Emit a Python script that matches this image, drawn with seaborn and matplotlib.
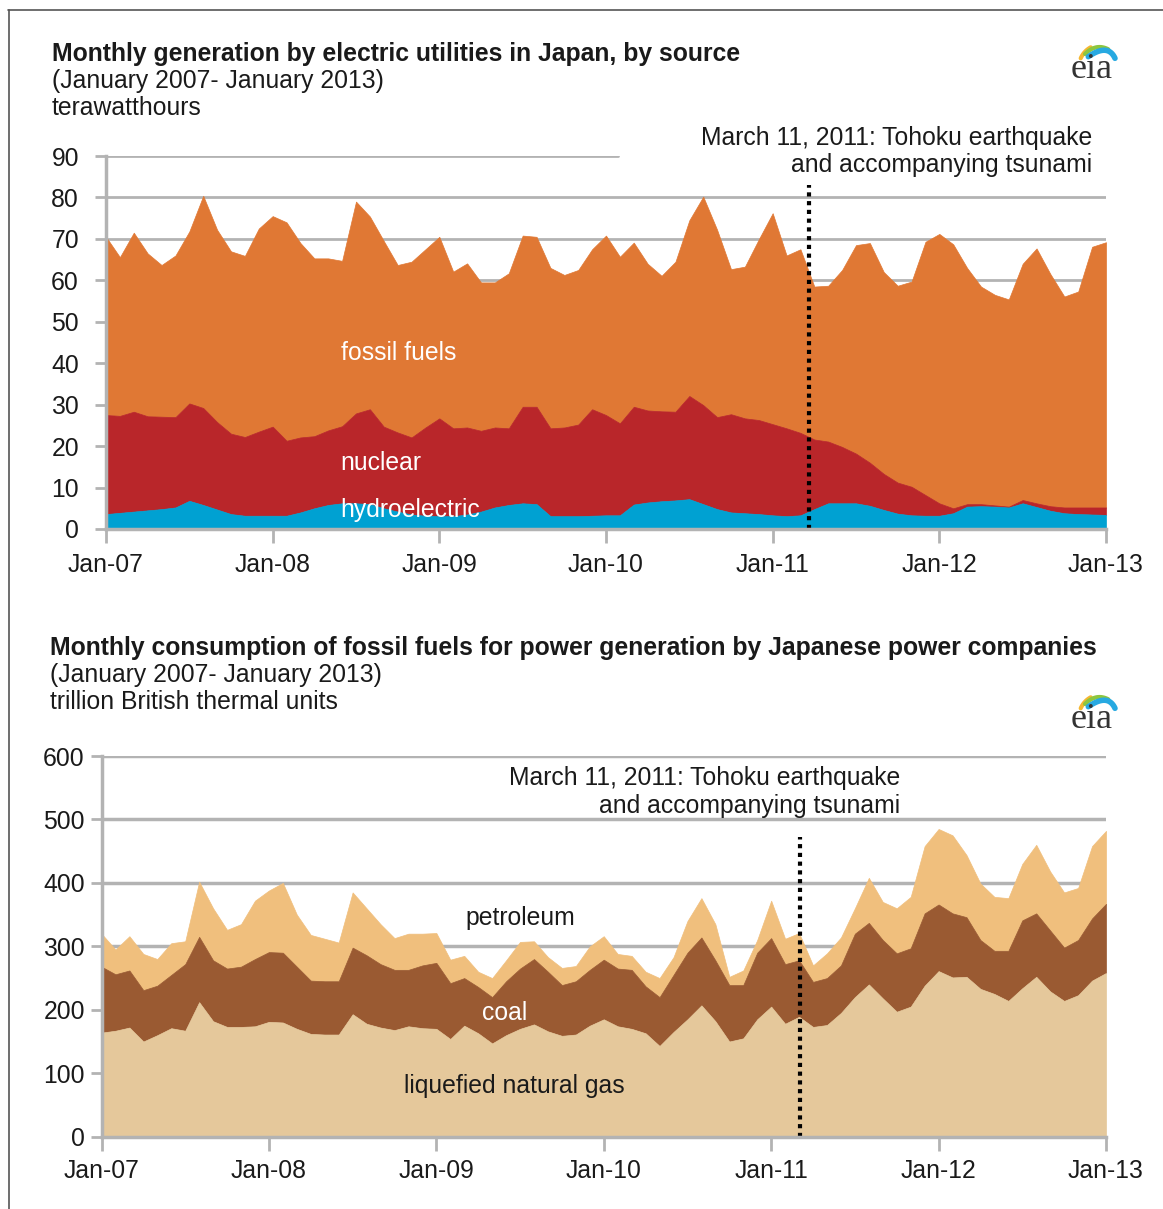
import numpy as np
import pandas as pd
import seaborn as sns
import matplotlib.pyplot as plt
from matplotlib.lines import Line2D

W, H = 1163, 1209

year_labels = ["Jan-07", "Jan-08", "Jan-09", "Jan-10", "Jan-11", "Jan-12", "Jan-13"]

# Monthly generation, terawatthours (upper edge of each stacked band)
hydro = [3.6, 3.9, 4.2, 4.5, 4.8, 5.2, 6.8, 5.8, 4.7, 3.6, 3.2, 3.2, 3.2,
         3.2, 4.0, 5.0, 5.8, 6.2, 6.2, 6.0, 5.0, 4.2, 3.5, 3.2, 3.1,
         3.1, 3.5, 4.2, 5.2, 5.8, 6.2, 6.0, 3.1, 3.1, 3.1, 3.2, 3.3,
         3.3, 5.9, 6.4, 6.7, 6.9, 7.2, 6.0, 4.8, 4.0, 3.8, 3.6, 3.3,
         3.1, 3.3, 4.8, 6.2, 6.2, 6.2, 5.6, 4.6, 3.7, 3.3, 3.2, 3.2,
         3.8, 5.4, 5.5, 5.4, 5.2, 6.2, 5.3, 4.4, 3.8, 3.6, 3.5, 3.4]
hydro_nuclear = [27.5, 27.3, 28.3, 27.2, 27.1, 27.0, 30.3, 29.2, 25.8, 23.0, 22.2, 23.5, 24.7,
                 21.3, 22.1, 22.4, 23.8, 24.8, 27.9, 28.9, 24.7, 23.3, 22.1, 24.5, 26.7,
                 24.3, 24.5, 23.7, 24.5, 24.3, 29.5, 29.5, 24.3, 24.5, 25.2, 28.9, 27.5,
                 25.5, 29.5, 28.6, 28.4, 28.3, 32.1, 29.9, 27.0, 27.7, 26.7, 26.3, 25.3,
                 24.3, 23.2, 21.6, 21.1, 19.8, 18.2, 16.0, 13.3, 11.2, 10.2, 8.2, 6.2,
                 5.0, 6.0, 6.0, 5.7, 5.4, 7.0, 6.2, 5.5, 5.2, 5.2, 5.2, 5.2]
total_generation = [70.5, 65.6, 71.5, 66.5, 63.7, 66.0, 71.8, 80.4, 72.2, 67.0, 65.9, 72.5, 75.5,
                    74.0, 69.0, 65.3, 65.3, 64.7, 79.0, 75.4, 69.5, 63.7, 64.5, 67.5, 70.5,
                    62.1, 64.1, 59.5, 59.5, 61.7, 70.8, 70.5, 63.0, 61.3, 62.5, 67.5, 70.8,
                    65.7, 69.1, 64.0, 61.1, 64.5, 74.5, 80.2, 72.2, 62.7, 63.3, 69.9, 76.2,
                    66.0, 67.5, 58.5, 58.7, 62.5, 68.5, 69.0, 62.0, 58.7, 59.7, 69.3, 71.2,
                    68.7, 63.0, 58.5, 56.5, 55.4, 64.0, 67.7, 61.5, 56.1, 57.3, 68.1, 69.2]

# Fossil fuel consumption, trillion Btu (upper edge of each stacked band)
lng = [164, 167, 172, 150, 160, 171, 167, 212, 182, 173, 173, 174, 181,
       180, 170, 162, 161, 161, 193, 178, 172, 168, 174, 171, 170,
       154, 175, 163, 147, 160, 170, 177, 166, 159, 161, 175, 185,
       174, 170, 163, 143, 165, 185, 207, 182, 150, 155, 185, 205,
       178, 189, 173, 176, 195, 220, 240, 218, 197, 205, 238, 261,
       251, 252, 233, 225, 214, 234, 252, 229, 214, 223, 246, 258]
lng_coal = [268, 256, 262, 231, 238, 255, 272, 315, 278, 265, 268, 280, 291,
            290, 268, 246, 245, 245, 298, 286, 272, 263, 263, 270, 274,
            242, 250, 236, 220, 245, 265, 280, 260, 239, 245, 263, 279,
            265, 263, 237, 220, 255, 290, 314, 278, 239, 239, 290, 313,
            272, 278, 244, 250, 270, 320, 337, 310, 289, 297, 352, 366,
            352, 346, 310, 293, 293, 341, 352, 325, 298, 310, 344, 367]
total_fuel = [320, 295, 316, 288, 280, 305, 308, 402, 360, 326, 335, 372, 388,
              400, 350, 318, 312, 306, 385, 360, 335, 313, 320, 320, 321,
              279, 285, 260, 250, 278, 307, 308, 283, 266, 269, 300, 316,
              288, 285, 260, 250, 283, 340, 376, 335, 252, 262, 310, 372,
              312, 321, 270, 289, 314, 360, 408, 370, 360, 378, 458, 485,
              475, 444, 399, 378, 376, 430, 460, 418, 385, 392, 458, 482]

gen = pd.DataFrame({"month": np.arange(len(hydro)), "hydro": hydro,
                    "nuclear": hydro_nuclear, "total": total_generation})
fuel = pd.DataFrame({"month": np.arange(len(lng)), "lng": lng,
                     "coal": lng_coal, "total": total_fuel})

sns.set_theme(style="white")
plt.rcParams["font.family"] = ["Liberation Sans", "DejaVu Sans"]

GRID = "#b3b3b3"
FS = 17.8

fig = plt.figure(figsize=(W / 100, H / 100), dpi=100)


def ftext(x, y, s, **kw):
    fig.text(x / W, 1 - (y + 2) / H, s, va="center", fontsize=FS, color="#1a1a1a", **kw)


def eia_logo(top):
    lax = fig.add_axes([1062 / W, 1 - (top + 60) / H, 64 / W, 60 / H])
    lax.set_xlim(0, 64)
    lax.set_ylim(60, 0)
    lax.axis("off")
    t = np.linspace(0, 1, 30)[:, None]
    arcs = [((18.7, 23.3), (22, 16), (28.7, 12.3), "#f5b731", 3),
            ((23, 19), (34, 8), (46.3, 14.3), "#8dc63f", 3),
            ((26.3, 21.7), (46, 8), (53, 23.3), "#27a9e1", 4)]
    for p0, p1, p2, c, lw in arcs:
        p0, p1, p2 = map(np.array, (p0, p1, p2))
        pts = (1 - t) ** 2 * p0 + 2 * (1 - t) * t * p1 + t ** 2 * p2
        lax.plot(pts[:, 0], pts[:, 1], color=c, lw=lw, solid_capstyle="round")
    lax.text(30, 43, "eia", family=["Liberation Serif", "DejaVu Serif"],
             fontsize=26, ha="center", va="baseline", color="#333333")


def style_axes(ax, ymax, ystep, ypad, xpad):
    ax.set_xlim(0, 72)
    ax.set_ylim(0, ymax)
    ax.set_xticks(np.arange(0, 73, 12))
    ax.set_xticklabels(year_labels)
    ax.set_yticks(np.arange(0, ymax + 1, ystep))
    ax.tick_params(axis="y", length=8, width=2, color=GRID, pad=ypad, labelsize=FS,
                   labelcolor="#1a1a1a", left=True)
    ax.tick_params(axis="x", length=10, width=2, color=GRID, pad=xpad, labelsize=FS,
                   labelcolor="#1a1a1a", bottom=True, direction="out")
    sns.despine(ax=ax)
    for side in ("left", "bottom"):
        ax.spines[side].set_color(GRID)
        ax.spines[side].set_linewidth(2.5)
    ax.patch.set_alpha(0)


# ---- top chart: generation by source ----
ax1 = fig.add_axes([106 / W, 1 - 529 / H, 1000 / W, 373 / H])
for v in range(10, 90, 10):
    ax1.axhline(v, color=GRID, lw=2, zorder=0)
ax1.axhline(90, xmax=0.512, color=GRID, lw=2, zorder=0)
ax1.fill_between(gen["month"], gen["nuclear"], gen["total"], color="#e07834", lw=0.5, ec="#e07834")
ax1.fill_between(gen["month"], gen["hydro"], gen["nuclear"], color="#b9262a", lw=0.5, ec="#b9262a")
ax1.fill_between(gen["month"], 0, gen["hydro"], color="#00a1d2", lw=0.5, ec="#00a1d2")
ax1.plot([50.6, 50.6], [0, 83], color="black", lw=3, ls=(0, (1, 1.1)), clip_on=False)
style_axes(ax1, 90, 10, 11.5, 7.5)
ax1.text(16.9, 42.5, "fossil fuels", color="white", fontsize=FS, va="center")
ax1.text(16.9, 16.0, "nuclear", color="white", fontsize=FS, va="center")
ax1.text(16.9, 4.6, "hydroelectric", color="white", fontsize=FS, va="center")

ftext(52, 52, "Monthly generation by electric utilities in Japan, by source", fontweight="bold")
ftext(52, 79, "(January 2007- January 2013)")
ftext(52, 106, "terawatthours")
ftext(1092, 136, "March 11, 2011: Tohoku earthquake", ha="right")
ftext(1092, 163, "and accompanying tsunami", ha="right")
eia_logo(35)

# ---- bottom chart: fuel consumption ----
ax2 = fig.add_axes([101.5 / W, 1 - 1136.7 / H, 1004.5 / W, 380.7 / H])
for v in range(100, 700, 100):
    ax2.axhline(v, color=GRID, lw=2.5, zorder=0)
ax2.fill_between(fuel["month"], fuel["coal"], fuel["total"], color="#f0bf7d", lw=0.5, ec="#f0bf7d")
ax2.fill_between(fuel["month"], fuel["lng"], fuel["coal"], color="#9a5a32", lw=0.5, ec="#9a5a32")
ax2.fill_between(fuel["month"], 0, fuel["lng"], color="#e5c89b", lw=0.5, ec="#e5c89b")
ax2.plot([50.1, 50.1], [0, 473], color="black", lw=3, ls=(0, (1, 1.1)))
style_axes(ax2, 600, 100, 4, 6)
ax2.text(30.0, 345, "petroleum", color="#1a1a1a", fontsize=FS, va="center", ha="center")
ax2.text(28.9, 195, "coal", color="white", fontsize=FS, va="center", ha="center")
ax2.text(29.6, 80, "liquefied natural gas", color="#1a1a1a", fontsize=FS, va="center", ha="center")

ftext(50, 646, "Monthly consumption of fossil fuels for power generation by Japanese power companies",
      fontweight="bold")
ftext(50, 673, "(January 2007- January 2013)")
ftext(50, 700, "trillion British thermal units")
ftext(900, 776, "March 11, 2011: Tohoku earthquake", ha="right")
ftext(900, 804, "and accompanying tsunami", ha="right")
eia_logo(685)

# outer frame lines
fig.add_artist(Line2D([8 / W, 1], [1 - 10 / H, 1 - 10 / H], color="#555555", lw=1.2))
fig.add_artist(Line2D([8.5 / W, 8.5 / W], [0, 1 - 10 / H], color="#555555", lw=1.2))

fig.savefig("out.png", dpi=100)
